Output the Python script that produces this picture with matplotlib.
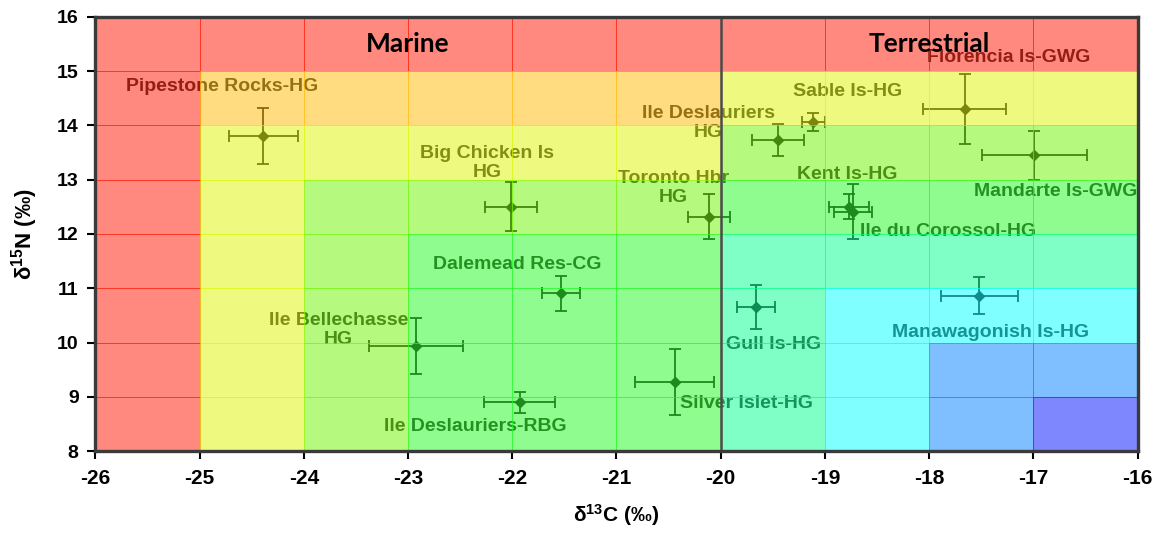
import matplotlib
matplotlib.use("Agg")
import matplotlib.pyplot as plt
from matplotlib.patches import Rectangle

plt.rcParams['font.family'] = ['Liberation Sans', 'DejaVu Sans']
plt.rcParams['mathtext.default'] = 'regular'
plt.rcParams['axes.unicode_minus'] = False

# Colony isotope means and standard deviations
sites = ["Pipestone Rocks-HG", "Big Chicken Is\nHG", "Toronto Hbr\nHG",
         "Ile Deslauriers\nHG", "Sable Is-HG", "Florencia Is-GWG",
         "Mandarte Is-GWG", "Kent Is-HG", "Ile du Corossol-HG",
         "Dalemead Res-CG", "Ile Bellechasse\nHG", "Gull Is-HG",
         "Manawagonish Is-HG", "Silver Islet-HG", "Ile Deslauriers-RBG"]
d13c = [-24.39, -22.01, -20.11, -19.45, -19.11, -17.66, -16.99, -18.77,
        -18.73, -21.53, -22.92, -19.66, -17.52, -20.44, -21.93]
d13c_sd = [0.33, 0.25, 0.20, 0.25, 0.11, 0.40, 0.50, 0.19,
           0.18, 0.18, 0.45, 0.18, 0.37, 0.38, 0.34]
d15n = [13.80, 12.50, 12.32, 13.73, 14.06, 14.30, 13.45, 12.50,
        12.41, 10.91, 9.94, 10.66, 10.86, 9.28, 8.90]
d15n_sd = [0.52, 0.45, 0.41, 0.30, 0.16, 0.65, 0.45, 0.23,
           0.51, 0.32, 0.52, 0.41, 0.34, 0.61, 0.19]

# Where each colony name is written
label_x = [-24.78, -22.24, -20.45, -20.12, -18.78, -17.24, -16.79, -18.79,
           -17.82, -21.95, -23.67, -19.49, -17.41, -19.75, -22.35]
label_y = [14.72, 13.31, 12.85, 14.04, 14.62, 15.25, 12.78, 13.09,
           12.04, 11.43, 10.23, 9.96, 10.18, 8.88, 8.45]

# Diet zone grid: 1-permil cells, rows listed from the top (15-16) down
x_edges = list(range(-26, -15))
y_edges = list(range(16, 7, -1))
zone_index = [
    [0, 0, 0, 0, 0, 0, 0, 0, 0, 0],
    [0, 1, 1, 1, 1, 1, 2, 2, 2, 2],
    [0, 2, 2, 2, 2, 2, 3, 3, 3, 3],
    [0, 2, 3, 3, 3, 3, 4, 4, 4, 4],
    [0, 2, 3, 4, 4, 4, 5, 5, 5, 5],
    [0, 2, 3, 4, 4, 4, 5, 6, 6, 6],
    [0, 2, 3, 4, 4, 4, 5, 6, 7, 7],
    [0, 2, 3, 4, 4, 4, 5, 6, 7, 8],
]
zone_colors = ['#ff1400', '#ffbb00', '#dcf500', '#6ef500', '#1efa1e',
               '#00ff8c', '#00ffff', '#0080ff', '#0010ff']

habitat_names = ["Marine", "Terrestrial"]
habitat_x = [-23.0, -18.0]
habitat_split = -20

fig = plt.figure(figsize=(11.6, 5.35), dpi=100)
ax = fig.add_axes([0.0822, 0.1565, 0.8985, 0.8123])
ax.set_xlim(-26, -16)
ax.set_ylim(8, 16)

dark = '#1a1a1a'
ax.errorbar(d13c, d15n, xerr=d13c_sd, yerr=d15n_sd, fmt='D', color=dark,
            ms=5.5, lw=1.3, capsize=4, capthick=1.3, zorder=2)
for name, lx, ly in zip(sites, label_x, label_y):
    ax.text(lx, ly, name, ha='center', va='center', fontsize=14,
            fontweight='bold', color='#2a2a2a', zorder=2, clip_on=False)

# Translucent zone cells over the data
for r, row in enumerate(zone_index):
    for c, z in enumerate(row):
        x0, x1 = x_edges[c], x_edges[c + 1]
        y1, y0 = y_edges[r], y_edges[r + 1]
        ax.add_patch(Rectangle((x0, y0), x1 - x0, y1 - y0,
                               facecolor=zone_colors[z], edgecolor=zone_colors[z],
                               alpha=0.5, lw=0.7, zorder=3))

ax.axvline(habitat_split, color='#4a4a4a', lw=1.8, zorder=4)
for name, hx in zip(habitat_names, habitat_x):
    ax.text(hx, 15.5, name, ha='center', va='center', fontsize=19,
            fontweight='bold', family=['Lato', 'DejaVu Sans'], color='black',
            zorder=5)

for s in ax.spines.values():
    s.set_linewidth(2.4)
    s.set_color('#3a3a3a')
    s.set_zorder(6)

ax.set_xticks(range(-26, -15))
ax.set_yticks(range(8, 17))
ax.tick_params(axis='both', direction='out', length=6, width=1.5, color='black')
ax.tick_params(axis='x', pad=7)
ax.tick_params(axis='y', pad=6)
for t in ax.get_xticklabels():
    t.set_fontfamily(['Liberation Sans Narrow', 'Liberation Sans'])
    t.set_fontweight('bold')
    t.set_fontsize(15)
for t in ax.get_yticklabels():
    t.set_fontweight('bold')
    t.set_fontsize(14)

ax.set_xlabel('δ$^{13}$C (‰)', fontsize=15, fontweight='bold', labelpad=10)
ax.set_ylabel('δ$^{15}$N (‰)', fontsize=16, fontweight='bold', labelpad=12)

fig.savefig('out.png', dpi=100)
